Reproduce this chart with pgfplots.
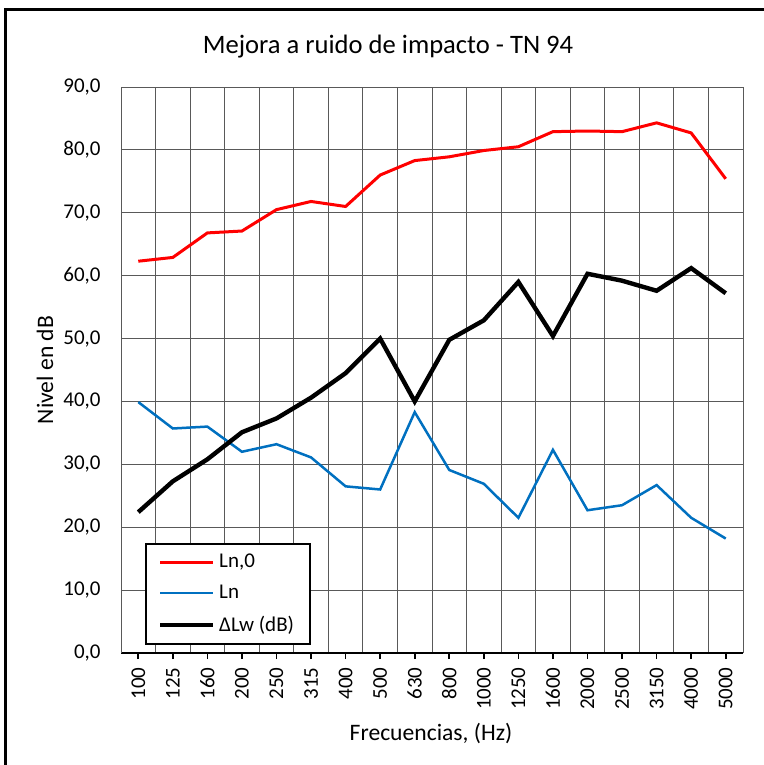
\documentclass[border=0pt]{standalone}
\usepackage{fontspec}
\setmainfont{Carlito}
\usepackage{pgfplots}
\pgfplotsset{compat=1.18}
\definecolor{lnRed}{HTML}{FF0000}
\definecolor{lnBlue}{HTML}{0070C0}
\definecolor{gridGray}{HTML}{595959}

% frequency bands 100 ... 5000 Hz, plotted at 0..17
\pgfplotstableread{
idx Ln0  Ln   DLw
0   62.3 39.9 22.4
1   62.9 35.7 27.3
2   66.8 36.0 30.8
3   67.1 32.0 35.1
4   70.5 33.2 37.3
5   71.8 31.1 40.6
6   71.0 26.5 44.5
7   76.0 26.0 50.0
8   78.3 38.3 40.0
9   78.9 29.1 49.8
10  79.9 26.9 52.9
11  80.5 21.5 59.0
12  82.9 32.3 50.4
13  83.0 22.7 60.3
14  82.9 23.5 59.2
15  84.3 26.7 57.6
16  82.7 21.5 61.2
17  75.4 18.2 57.2
}\datatable

\begin{document}
\begin{tikzpicture}[x=0.5pt,y=0.5pt]
% picture frame: 764 x 765 px, 1px = 0.5pt; axis south west at px (121,653)
\useasboundingbox (-121,-112) rectangle (643,653);
\draw[line width=1.5] (-115,-112) -- (-115,643) -- (643,643);
\begin{axis}[
  at={(0,0)},anchor=south west,
  scale only axis,width=311pt,height=283pt,
  xmin=-0.5,xmax=17.5,ymin=0,ymax=90,
  xtick={0,...,17},
  xticklabels={100,125,160,200,250,315,400,500,630,800,1000,1250,1600,2000,2500,3150,4000,5000},
  minor xtick={-0.5,0.5,...,17.5},
  ytick={0,10,...,90},
  xminorgrids=true,ymajorgrids=true,xmajorgrids=false,
  grid style={gridGray,line width=0.5pt},
  minor grid style={gridGray,line width=0.5pt},
  axis x line*=bottom,axis y line*=left,
  x axis line style={black,line width=1pt,-},
  y axis line style={gridGray,line width=0.5pt,-},
  tick align=outside,major tick length=3pt,minor tick length=0pt,
  xtick style={black,line width=0.8pt},
  ytick style={draw=none},
  ticklabel style={font=\fontsize{10.5}{12}\selectfont},
  xticklabel style={rotate=90,anchor=east,inner sep=0pt},
  xticklabel shift=4pt,
  yticklabel style={anchor=east,inner sep=0pt},
  yticklabel shift=7pt,
  /pgf/number format/.cd,fixed,fixed zerofill,precision=1,use comma,assume math mode=true,
  /pgfplots/.cd,
  legend style={at={(0.0386,0.1943)},anchor=north west,draw=black,line width=0.8pt,
    font=\fontsize{10.5}{12}\selectfont,inner xsep=6pt,inner ysep=3pt,
    row sep=3.2pt,cells={anchor=west}},
  legend cell align=left,
  legend image code/.code={\draw[#1] (0pt,0pt) -- (26.5pt,0pt);},
  clip=false,
]
\addplot[lnRed,line width=1.5pt] table[x=idx,y=Ln0] {\datatable};
\addplot[lnBlue,line width=1.25pt] table[x=idx,y=Ln] {\datatable};
\addplot[black,line width=2.2pt] table[x=idx,y=DLw] {\datatable};
\legend{{Ln,0},Ln,ΔLw (dB)}
\end{axis}
\node[font=\fontsize{13.3}{16}\selectfont] at (267,606) {Mejora a ruido de impacto - TN 94};
\node[font=\fontsize{11.8}{14}\selectfont,rotate=90] at (-76,283) {Nivel en dB};
\node[font=\fontsize{11.8}{14}\selectfont] at (310,-81) {Frecuencias, (Hz)};
\end{tikzpicture}
\end{document}
